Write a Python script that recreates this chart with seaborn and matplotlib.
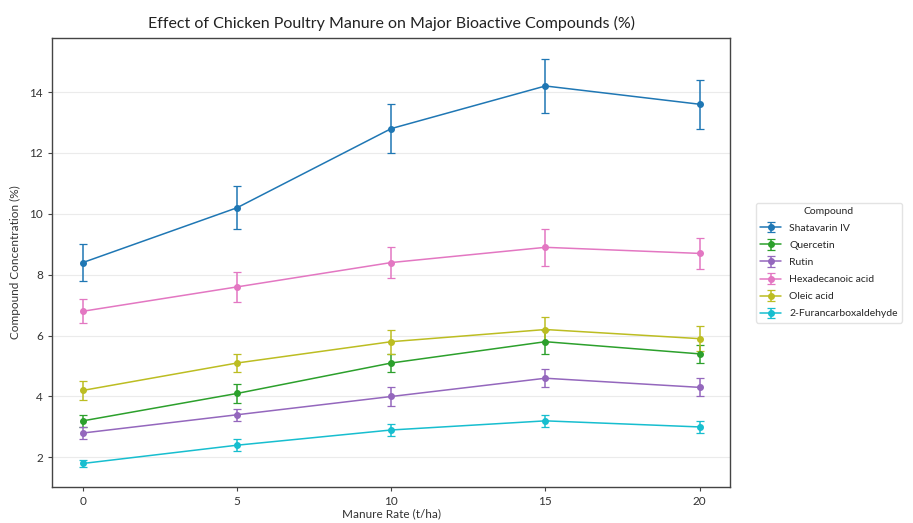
import matplotlib
matplotlib.use("Agg")
import matplotlib.pyplot as plt
import seaborn as sns
import numpy as np

rates = [0, 5, 10, 15, 20]
compounds = ["Shatavarin IV", "Quercetin", "Rutin", "Hexadecanoic acid", "Oleic acid", "2-Furancarboxaldehyde"]
shatavarin = [8.4, 10.2, 12.8, 14.2, 13.6]
shatavarin_err = [0.6, 0.7, 0.8, 0.9, 0.8]
quercetin = [3.2, 4.1, 5.1, 5.8, 5.4]
quercetin_err = [0.2, 0.3, 0.3, 0.4, 0.3]
rutin = [2.8, 3.4, 4.0, 4.6, 4.3]
rutin_err = [0.2, 0.2, 0.3, 0.3, 0.3]
hexadecanoic = [6.8, 7.6, 8.4, 8.9, 8.7]
hexadecanoic_err = [0.4, 0.5, 0.5, 0.6, 0.5]
oleic = [4.2, 5.1, 5.8, 6.2, 5.9]
oleic_err = [0.3, 0.3, 0.4, 0.4, 0.4]
furan = [1.8, 2.4, 2.9, 3.2, 3.0]
furan_err = [0.1, 0.2, 0.2, 0.2, 0.2]

values = [shatavarin, quercetin, rutin, hexadecanoic, oleic, furan]
errors = [shatavarin_err, quercetin_err, rutin_err, hexadecanoic_err, oleic_err, furan_err]

sns.set_style("whitegrid")
plt.rcParams['font.family'] = ['Lato', 'DejaVu Sans']

palette = sns.color_palette("tab10")
colors = [palette[0], palette[2], palette[4], palette[6], palette[8], palette[9]]

fig = plt.figure(figsize=(9.13, 5.23), dpi=100)
ax = fig.add_axes([0.057, 0.069, 0.743, 0.858])

for name, v, e, c in zip(compounds, values, errors, colors):
    ax.errorbar(rates, v, yerr=e, label=name, color=c, marker='o', markersize=4,
                linewidth=1.1, capsize=3, elinewidth=1.1, capthick=0.9)

ax.set_xticks(rates)
ax.set_yticks([2, 4, 6, 8, 10, 12, 14])
ax.grid(axis='x', visible=False)
ax.grid(axis='y', color='#ebebeb', linewidth=0.8)
for s in ax.spines.values():
    s.set_color('#444444')
    s.set_linewidth(1.0)
ax.tick_params(axis='both', which='both', length=3, color='#444444', labelsize=8.5, labelcolor='#333333', bottom=True, left=True)

ax.set_title("Effect of Chicken Poultry Manure on Major Bioactive Compounds (%)", fontsize=11.5, color='#222222', pad=7)
ax.set_xlabel("Manure Rate (t/ha)", fontsize=8.5, color='#333333', labelpad=1)
ax.set_ylabel("Compound Concentration (%)", fontsize=8.5, color='#333333', labelpad=6)

leg = ax.legend(title="Compound", loc='center left', bbox_to_anchor=(1.03, 0.5), fontsize=7.5,
                title_fontsize=7.5, frameon=True, edgecolor='#dddddd', labelspacing=0.75)

fig.savefig("out.png", dpi=100)
